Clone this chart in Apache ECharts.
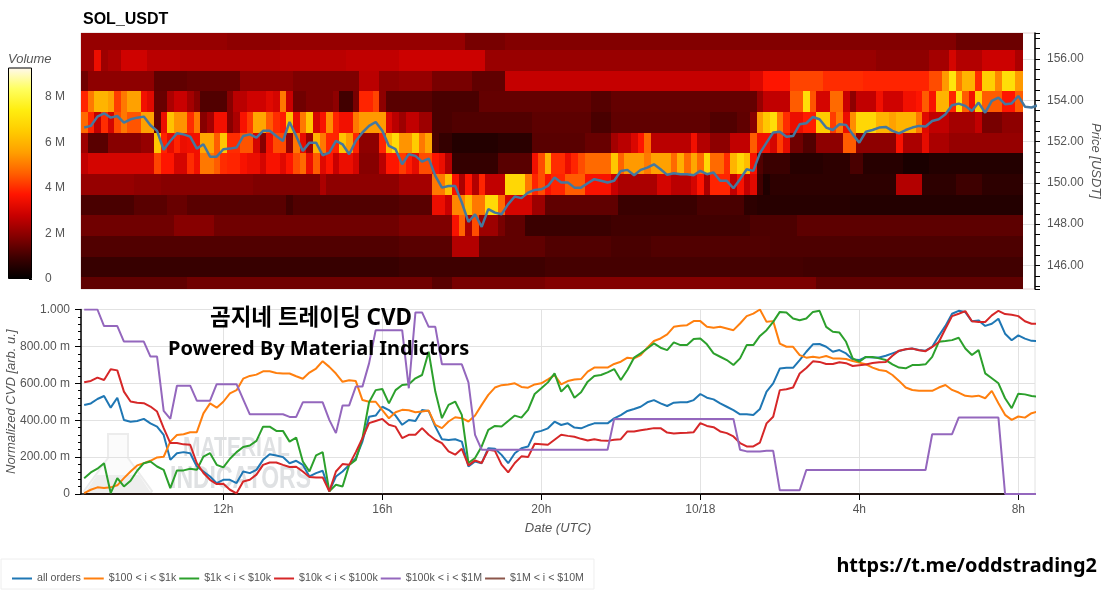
<!DOCTYPE html>
<html><head><meta charset="utf-8">
<script src="https://cdn.jsdelivr.net/npm/echarts@6/dist/echarts.min.js"></script>
<style>html,body{margin:0;padding:0;background:#fff}#c{width:1107px;height:590px}</style>
</head><body><div id="c"></div>
<script>
const rowPrices=[156.93,155.93,154.93,153.93,152.93,151.93,150.93,149.93,148.93,147.93,146.93,145.93,144.93];
// volume in millions: [end column (exclusive), value] runs, 10-minute columns from 08:25
const r156=[[22,2.1],[30,2.0],[58,2.1],[64,1.7],[132,1.85],[142,1.55]];
const r155=[[2,2.2],[3,3.4],[4,2.2],[6,2.4],[10,2.9],[15,2.6],[30,2.5],[40,2.6],[48,2.7],[61,2.85],[120,2.15],[128,2.0],[131,2.3],[132,3.0],[136,2.5],[141,2.85],[142,2.4]];
const r154=[[1,1.6],[11,2.0],[16,1.4],[24,1.5],[32,2.0],[42,1.8],[45,2.6],[48,2.0],[53,2.1],[59,1.7],[64,1.4],[101,2.75],[103,3.1],[107,3.7],[112,4.3],[118,4.0],[128,3.9],[130,4.4],[131,5.5],[132,7.2],[133,5],[135,6],[136,4],[138,6.6],[139,5.2],[141,7],[142,5.5]];
const r153=[[1,3.9],[2,5],[4,6],[5,5.6],[6,4.2],[7,5],[9,5.6],[10,3.5],[11,3.2],[13,1.5],[14,2.4],[16,2.8],[17,2.3],[18,1.9],[22,1.2],[23,1.9],[25,2.6],[28,2.9],[29,3.2],[30,3],[31,5],[32,2.8],[34,1.6],[38,1.8],[39,2.0],[41,1.0],[42,1.7],[44,3.9],[45,4.3],[46,2.0],[53,1.3],[60,1.1],[77,1.45],[80,1.25],[102,1.45],[103,2.1],[107,2.7],[109,4.6],[110,7],[111,4.5],[113,3],[115,4.8],[116,2.8],[117,2],[120,2.7],[121,3.5],[124,2.9],[126,3.5],[127,3.7],[128,4.6],[129,3.6],[131,6],[132,3.9],[133,7],[134,4.6],[135,3.5],[136,6.6],[139,4.6],[141,3.7],[142,4.6]];
const r152=[[1,4.8],[2,3.9],[3,2.7],[4,4],[5,3],[6,4.4],[7,5],[9,4.5],[11,5.6],[12,1.5],[13,3.4],[14,6.3],[16,5.4],[17,4],[18,5],[19,1.9],[20,2.3],[22,3.5],[23,1.9],[24,2.4],[25,3.6],[26,4.2],[28,5.7],[29,4.6],[30,4],[31,3.8],[32,6.3],[33,3.4],[34,5],[35,6.4],[36,3],[37,3.6],[38,5.3],[39,3.9],[41,3.5],[42,5],[46,5.5],[47,3.1],[48,2.6],[49,2.2],[51,2.7],[53,2.2],[56,1.1],[68,1.2],[77,1.35],[80,1.1],[95,1.4],[99,1.2],[101,1.4],[102,1.9],[103,5.5],[104,6.4],[105,7],[106,5],[107,4],[109,3.4],[111,3.8],[113,6.5],[114,4.2],[115,5],[116,3.4],[117,5.3],[120,6.8],[122,6],[123,5.6],[126,6],[127,5],[128,3.2],[131,2.7],[135,2.3],[136,2.7],[139,1.7],[142,2.0]];
const r151=[[1,2.2],[4,1.3],[9,1.9],[11,2.1],[12,6.4],[13,3.9],[14,3.3],[15,3.9],[16,3.4],[18,3.5],[20,5.7],[21,4.6],[22,6.4],[24,4],[26,4.5],[27,3],[28,1.9],[29,3.5],[31,4.4],[32,2.1],[33,5],[34,3.3],[35,2.2],[36,6],[37,5],[39,3.9],[40,6.3],[41,5.5],[42,3.9],[45,2],[46,3.9],[47,6],[48,6.9],[50,5.4],[51,6.5],[52,5],[53,5.7],[54,1.1],[56,0.8],[63,0.55],[68,0.65],[76,1.3],[80,1.5],[81,2.3],[83,2.6],[84,3.1],[85,3.7],[86,4.8],[92,2.6],[93,3.5],[95,2.5],[98,2],[101,2.7],[102,4.6],[104,3.5],[105,3],[106,4.2],[107,3.3],[109,1.6],[111,1.2],[115,2],[117,4.6],[123,2],[124,3.6],[127,2.4],[128,3.3],[131,2.4],[142,2.1]];
const r150=[[1,2.7],[11,3],[12,4.3],[14,3.7],[16,3],[17,4],[18,3.5],[20,5],[21,4.6],[22,4],[24,3.9],[25,3.6],[27,3.4],[28,3],[30,3.6],[31,3.2],[32,3.7],[33,4.4],[34,4.8],[35,3.4],[36,4.6],[37,3.2],[38,3.7],[39,2.8],[41,3.4],[42,3],[45,1.9],[46,2.6],[48,3.7],[49,4.2],[50,3.8],[51,3.3],[53,4.4],[54,3.7],[55,3.4],[56,2.5],[63,0.8],[68,1.3],[69,3.5],[70,4.4],[71,6],[73,4],[74,3.4],[75,3.9],[76,4.4],[80,4.8],[81,6.4],[82,4.7],[85,5.5],[86,5],[89,5.6],[90,4.8],[91,5.9],[92,4.8],[93,5.7],[94,4.8],[95,6.8],[97,4.8],[98,4],[99,6],[100,6.8],[101,6.2],[102,3.6],[103,1.2],[107,0.9],[112,0.6],[116,0.7],[118,1.1],[124,0.6],[128,0.4],[142,0.55]];
const r149=[[8,2.1],[12,2.0],[26,1.9],[36,1.8],[37,2.4],[48,2.0],[53,2.3],[55,5],[56,6.2],[57,3.6],[58,2.4],[59,3.7],[60,2.5],[61,3.9],[64,2.7],[67,6.8],[68,5],[69,3.9],[70,4.4],[71,3.6],[73,3.9],[76,4.6],[80,3.6],[81,2.8],[87,2.4],[89,3],[92,2.6],[93,3],[94,3.7],[95,2.4],[98,3.9],[99,2.7],[100,3.6],[101,2.7],[102,3.2],[103,1],[104,0.5],[123,0.7],[127,2.5],[132,0.7],[136,0.95],[142,0.7]];
const r148=[[8,1.1],[13,1.3],[16,1.5],[31,1.3],[32,1],[48,1.2],[53,1.3],[55,3.4],[56,2.8],[58,5.2],[59,6.2],[61,5],[63,6.9],[64,4.8],[68,3],[70,2.2],[81,1.4],[93,0.9],[100,1.1],[102,0.7],[116,0.6],[142,0.55]];
const r147=[[14,1.6],[20,1.9],[48,1.6],[56,1.8],[57,3.6],[58,4.7],[59,2.4],[60,4.4],[63,2.2],[64,1.7],[67,1.4],[80,0.9],[101,1],[108,1.15],[142,1.35]];
const r146=[[48,1.2],[56,1.3],[60,2.5],[70,1.4],[80,1.2],[86,1.1],[104,1.2],[142,1.15]];
const r145=[[48,0.85],[70,0.95],[109,1.05],[142,1.0]];
const r144=[[16,1.4],[48,1.6],[53,1.6],[56,1.3],[70,1.7],[98,1.85],[111,1.75],[142,1.4]];
const volumeRows=[r156,r155,r154,r153,r152,r151,r150,r149,r148,r147,r146,r145,r144];

// price in USDT, one value every 10 minutes
const price=[152.68,152.76,153.21,153.37,153.16,153.24,152.92,153.08,153.16,153.21,152.79,152.52,151.60,152.03,152.40,152.35,152.24,151.66,151.87,151.27,151.27,151.63,151.66,151.71,152.27,152.35,152.19,152.52,152.52,152.27,152.03,152.95,152.27,151.55,151.95,151.95,151.34,151.47,152.03,151.87,151.39,152.03,152.44,152.76,152.95,152.52,151.79,151.63,
150.90,151.39,151.31,151.03,151.18,150.34,149.77,149.85,149.85,149.05,148.11,148.48,147.87,148.73,148.56,148.48,148.97,149.34,149.26,149.53,149.66,149.69,149.85,150.26,150.02,150.02,149.77,149.77,149.98,150.18,150.10,150.02,150.10,150.58,150.63,150.37,150.63,150.74,150.90,150.66,150.39,150.47,150.42,150.42,150.37,150.58,150.42,150.50,150.10,150.10,149.74,150.18,150.66,150.58,
151.44,151.95,152.44,152.48,152.24,152.27,152.84,152.89,153.19,153.08,152.68,152.56,152.84,152.81,152.35,151.95,152.48,152.56,152.68,152.71,152.52,152.40,152.56,152.68,152.76,152.73,153.00,153.08,153.32,153.76,153.84,153.73,153.48,153.89,153.40,153.97,154.13,153.81,153.85,154.21,153.69,153.65,153.76];

// normalized CVD in milli arb. units, one value every 10 minutes
const allOrders=[482,491,515,531,468,522,401,392,396,407,383,365,320,185,221,227,221,149,122,95,59,77,77,59,122,113,131,185,216,209,200,167,180,158,95,113,126,14,95,122,158,194,284,419,425,473,455,425,
375,401,396,455,450,365,297,293,297,284,149,176,167,248,245,212,167,221,248,257,333,342,356,392,374,383,360,356,371,383,383,383,410,428,450,461,473,497,509,491,477,495,497,497,509,542,522,513,491,473,455,432,432,428,461,
555,600,680,684,684,726,771,811,813,798,771,780,762,729,726,743,740,740,749,762,775,784,789,780,777,798,857,911,977,993,986,936,941,911,923,950,869,833,860,842,830,828];
const band100=[5,23,36,32,36,47,86,122,155,167,180,198,202,284,320,324,335,335,437,491,468,500,545,563,625,640,647,665,665,656,653,653,638,625,658,680,720,689,653,608,617,612,509,500,500,455,410,443,
456,454,443,447,452,375,357,393,416,411,393,425,483,537,577,590,594,600,580,576,594,600,621,644,594,612,621,623,663,685,685,685,705,717,739,735,753,793,829,843,865,906,912,915,937,937,906,901,906,897,888,924,964,978,1000,
933,937,815,798,798,753,739,744,739,748,735,735,732,721,712,703,685,672,667,645,613,577,564,559,559,559,577,591,564,550,532,528,533,519,559,492,429,402,420,414,438,447];
const band1k=[86,117,137,167,5,86,41,72,126,167,176,149,131,32,128,128,137,131,203,221,158,144,191,227,255,263,288,365,365,342,342,284,306,176,122,209,227,14,50,41,158,185,302,497,563,569,491,563,
591,595,627,645,771,555,411,483,501,429,168,195,258,348,369,366,396,425,414,456,542,573,605,654,555,591,522,551,609,640,645,659,677,618,672,739,762,789,816,793,780,822,807,807,840,843,811,762,744,726,699,735,807,807,857,
888,933,987,984,951,942,951,987,993,906,879,875,825,735,717,743,743,735,726,703,685,681,699,699,703,743,825,829,834,847,789,753,780,654,627,600,519,465,544,540,531,528];
const band10k=[606,613,631,618,676,670,555,501,495,492,474,447,357,276,276,269,267,168,114,77,54,56,23,4,68,77,105,158,171,171,158,146,148,122,92,90,90,14,122,162,158,227,302,384,396,407,375,365,
303,321,321,357,321,294,276,231,213,245,155,182,168,240,234,159,117,168,204,200,272,270,267,294,321,315,310,299,290,297,290,288,294,297,339,339,346,351,357,357,333,328,330,332,335,384,369,362,339,330,312,276,258,258,279,
383,419,563,568,577,653,683,719,716,705,705,714,709,694,698,702,710,714,716,749,777,784,788,779,774,797,824,896,964,977,991,936,932,932,968,993,975,971,964,936,923,923];
const band100k=[1000,1000,1000,910,910,910,826,826,826,826,745,745,450,407,587,587,587,506,506,506,595,595,595,595,513,432,432,432,432,432,432,418,418,497,497,497,497,402,330,480,480,582,582,708,888,888,888,888,
888,573,984,984,906,906,703,703,703,703,605,320,240,240,240,240,240,240,240,240,240,240,240,240,240,240,240,240,240,240,240,240,407,407,407,407,407,407,407,407,407,407,407,407,407,407,407,407,407,407,407,240,231,231,231,
234,234,20,20,20,20,130,130,130,130,130,130,130,130,130,130,130,130,130,130,130,130,130,130,130,324,324,324,324,414,414,414,414,414,414,414,0,0,0,0,0,0];
const band1M=[[8.5,0],[32.42,0]];

const seriesNames=['all orders','$100 < i < $1k','$1k < i < $10k','$10k < i < $100k','$100k < i < $1M','$1M < i < $10M'];
const seriesColors=['#1f77b4','#ff7f0e','#2ca02c','#d62728','#9467bd','#8c564b'];
const dateLabels={12:'12h',16:'16h',20:'20h',24:'10/18',28:'4h',32:'8h'};
const heatColors=['#000000','#3c0000','#840000','#c80000','#ff1500','#ff6000','#ffa000','#ffcc00','#ffee10','#ffff60','#fff8f0'];

const T0=8.42,T1=32.42,STEP=1/6,FIRST=8.5;
const FONT='"Liberation Sans",Arial,sans-serif';
const GREY='#555';

const heatData=[];
volumeRows.forEach((runs,r)=>{let k=0;runs.forEach(([end,v])=>{for(;k<end;k++)heatData.push([T0+k*STEP,rowPrices[r],v]);});});
const onGrid=a=>a.map((v,i)=>[FIRST+i*STEP,v]);
const cvd=[allOrders,band100,band1k,band10k,band100k];

const chart=echarts.init(document.getElementById('c'),null,{renderer:'canvas'});
const barStops=heatColors.map((c,i)=>({offset:i/(heatColors.length-1),color:c}));

function mainX(gridIndex,show){
  return {type:'value',gridIndex,min:T0,max:T1,splitNumber:6,minInterval:4,maxInterval:4,show,z:3,
    axisLine:{show:true,onZero:false,lineStyle:{color:'#000',width:1.5}},
    axisTick:{show:true,length:6,lineStyle:{color:'#000',width:1}},minorTick:{show:false},
    axisLabel:{show:true,color:GREY,fontSize:12,fontFamily:FONT,margin:10,showMinLabel:false,showMaxLabel:false,
      formatter:v=>dateLabels[v]||''},
    splitLine:{show:true,showMinLine:false,showMaxLine:false,lineStyle:{color:'#e2e2e2',width:1}},
    name:show?'Date (UTC)':'',nameLocation:'middle',nameGap:28,
    nameTextStyle:{color:GREY,fontStyle:'italic',fontSize:13,fontFamily:FONT}};
}

chart.setOption({
  animation:false,
  title:{text:'SOL_USDT',left:83,top:12,padding:0,textStyle:{color:'#000',fontSize:16,fontWeight:'bold',fontFamily:FONT}},
  grid:[
    {left:81,top:33,width:954,height:256,show:true,outerBoundsMode:'none',borderColor:'#e0d0d0',borderWidth:1,backgroundColor:'transparent'},
    {left:81,top:309.5,width:954,height:184.5,show:true,outerBoundsMode:'none',borderColor:'#e2e2e2',borderWidth:1,backgroundColor:'transparent'},
    {left:8,top:67.5,width:24,height:211.5,outerBoundsMode:'none'}
  ],
  xAxis:[mainX(0,false),mainX(1,true),
    {type:'category',gridIndex:2,data:['Volume'],show:false}],
  yAxis:[
    {type:'value',gridIndex:0,position:'right',min:144.86,max:157.26,splitNumber:6,minInterval:2,maxInterval:2,
     axisLine:{show:true,onZero:false,lineStyle:{color:'#000',width:1.5}},
     axisTick:{show:true,length:5,lineStyle:{color:'#000'}},
     minorTick:{show:true,splitNumber:4,length:5,lineStyle:{color:'#000'}},
     axisLabel:{color:GREY,fontSize:12,fontFamily:FONT,margin:12,showMinLabel:false,showMaxLabel:false,formatter:v=>v.toFixed(2)},
     splitLine:{show:true,showMinLine:false,showMaxLine:false,lineStyle:{color:'#e2e2e2'}},
     name:'Price [USDT]',nameLocation:'middle',nameGap:54,nameRotate:-90,nameMoveOverlap:false,
     nameTextStyle:{color:GREY,fontStyle:'italic',fontSize:13,fontFamily:FONT}},
    {type:'value',gridIndex:1,min:0,max:1000,interval:200,z:3,
     axisLine:{show:true,onZero:false,lineStyle:{color:'#000',width:1.5}},
     axisTick:{show:true,length:6,lineStyle:{color:'#000'}},
     minorTick:{show:true,splitNumber:5,length:3,lineStyle:{color:'#000'}},
     axisLabel:{color:GREY,fontSize:12,fontFamily:FONT,margin:11,formatter:v=>v===0?'0':v===1000?'1.000':v.toFixed(2)+' m'},
     splitLine:{show:true,showMinLine:false,showMaxLine:false,lineStyle:{color:'#e2e2e2'}},
     name:'Normalized CVD [arb. u.]',nameLocation:'middle',nameGap:63,nameRotate:90,nameMoveOverlap:false,
     nameTextStyle:{color:GREY,fontStyle:'italic',fontSize:13,fontFamily:FONT}},
    {type:'value',gridIndex:2,position:'right',min:0,max:9.3,interval:2,
     axisLine:{show:false},axisTick:{show:true,inside:true,length:3,lineStyle:{color:'#000'}},
     axisLabel:{color:GREY,fontSize:12,fontFamily:FONT,margin:13,showMaxLabel:false,formatter:v=>v===0?'0':v+' M'},
     splitLine:{show:false}}
  ],
  visualMap:{type:'continuous',show:false,seriesIndex:0,dimension:2,min:0,max:9.3,inRange:{color:heatColors}},
  legend:{left:1,top:559,padding:[14,10,5,11],itemGap:3,itemWidth:20,itemHeight:2,icon:'rect',
    backgroundColor:'#fff',borderColor:'#eeeeee',borderWidth:1,
    data:seriesNames,textStyle:{color:GREY,fontSize:10.65,fontFamily:FONT}},
  graphic:[
    {type:'polygon',z:1,silent:true,shape:{points:[[108,434],[128,434],[128,458],[152,491],[150,494],[86,494],[84,491],[108,458]]},
      style:{fill:'#fbfbfb',stroke:'#ececec',lineWidth:2}},
    {type:'polygon',z:1,silent:true,shape:{points:[[97,475],[139,475],[151,493],[85,493]]},style:{fill:'#eeeeee'}},
    {type:'text',z:1,silent:true,x:183,y:435,scaleY:1.3,style:{text:'MATERIAL',fill:'#dfe1e3',font:'bold 21px "Liberation Sans"'}},
    {type:'text',z:1,silent:true,x:170,y:463,scaleY:1.4,style:{text:'INDICATORS',fill:'#dfe1e3',font:'bold 23px "Liberation Sans"'}},
    {type:'text',z:100,silent:true,x:8,y:53,style:{text:'Volume',fill:GREY,font:'italic 13px "Liberation Sans"'}},
    {type:'text',z:100,silent:true,x:311,y:319,style:{text:'곰지네 트레이딩 CVD',fill:'#000',align:'center',verticalAlign:'middle',font:'bold 22.5px "Noto Sans","Noto Sans CJK KR"'}},
    {type:'text',z:100,silent:true,x:168,y:349,style:{text:'Powered By Material Indictors',fill:'#000',align:'left',verticalAlign:'middle',font:'bold 20px "Noto Sans","Noto Sans CJK KR"'}},
    {type:'text',z:100,silent:true,x:1097,y:566,style:{text:'https://t.me/oddstrading2',fill:'#000',align:'right',verticalAlign:'middle',font:'bold 19.9px "Noto Sans","Noto Sans CJK KR"'}}
  ],
  series:[
    {type:'custom',name:'volume',xAxisIndex:0,yAxisIndex:0,data:heatData,encode:{x:0,y:1},z:2,clip:true,
     renderItem(params,api){
       const a=api.coord([api.value(0),api.value(1)+0.5]);
       const b=api.coord([api.value(0)+STEP,api.value(1)-0.5]);
       const x0=Math.round(a[0]),x1=Math.round(b[0]),y0=Math.round(a[1]),y1=Math.round(b[1]);
       const shape=echarts.graphic.clipRectByRect({x:x0,y:y0,width:x1-x0+1,height:y1-y0+1},params.coordSys);
       return shape&&{type:'rect',shape,style:{fill:api.visual('color'),stroke:null}};
     }},
    {type:'line',name:'price',xAxisIndex:0,yAxisIndex:0,data:onGrid(price),showSymbol:false,symbol:'none',z:4,
     lineStyle:{color:'#44789f',width:2.5}},
    ...cvd.map((d,i)=>({type:'line',name:seriesNames[i],xAxisIndex:1,yAxisIndex:1,data:onGrid(d),symbol:'none',z:4+i,
      lineStyle:{color:seriesColors[i],width:2},itemStyle:{color:seriesColors[i]}})),
    {type:'line',name:seriesNames[5],xAxisIndex:1,yAxisIndex:1,data:band1M,symbol:'none',z:2,
      lineStyle:{color:seriesColors[5],width:2},itemStyle:{color:seriesColors[5]}},
    {type:'bar',name:'Volume scale',xAxisIndex:2,yAxisIndex:2,data:[9.3],barWidth:'100%',silent:true,
     itemStyle:{borderColor:'#000',borderWidth:1,color:new echarts.graphic.LinearGradient(0,1,0,0,barStops)}}
  ]
});
</script></body></html>
